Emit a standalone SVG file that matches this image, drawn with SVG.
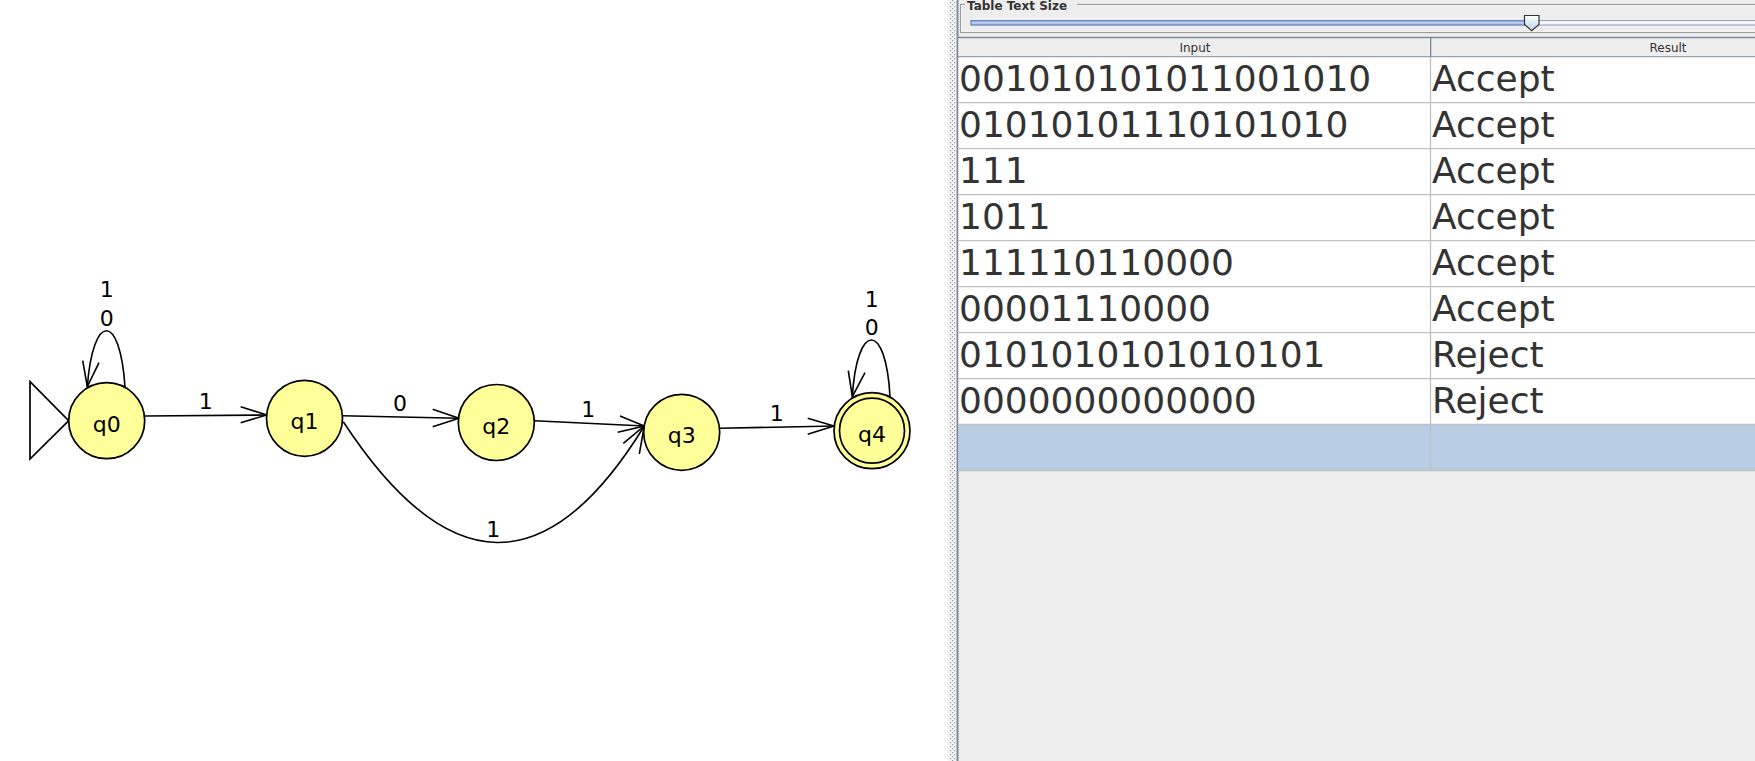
<svg xmlns="http://www.w3.org/2000/svg" width="1755" height="761" viewBox="0 0 1755 761">
<style>
.st{fill:#ffff99;stroke:#000;stroke-width:1.7}
.ln{fill:none;stroke:#000;stroke-width:1.6}
.lbl{font-family:"DejaVu Sans",Verdana,sans-serif;font-size:22px;fill:#000;text-anchor:middle}
.cell{font-family:"DejaVu Sans",Verdana,sans-serif;font-size:36px;fill:#333}
.hdr{font-family:"DejaVu Sans",Verdana,sans-serif;font-size:12px;fill:#333;text-anchor:middle}
.grid{stroke:#c0c0c0;stroke-width:1.3}
</style>
<defs>
<pattern id="dots" width="4" height="4" patternUnits="userSpaceOnUse">
<rect x="0" y="0" width="1.2" height="1.2" fill="#9a9a9a"/>
<rect x="2" y="2" width="1.2" height="1.2" fill="#9a9a9a"/>
</pattern>
<linearGradient id="trk" x1="0" y1="0" x2="0" y2="1">
<stop offset="0" stop-color="#6b8cc8"/>
<stop offset="0.5" stop-color="#c9d8ef"/>
<stop offset="1" stop-color="#8aa5d4"/>
</linearGradient>
<linearGradient id="thumb" x1="0" y1="0" x2="0" y2="1">
<stop offset="0" stop-color="#ffffff"/>
<stop offset="1" stop-color="#b9d2ec"/>
</linearGradient>
</defs>
<rect width="1755" height="761" fill="#fff"/>

<!-- Right panel -->
<g id="panel">
<rect x="948" y="0" width="9" height="761" fill="#f4f4f4"/>
<rect x="950" y="0" width="6" height="761" fill="url(#dots)"/>
<rect x="957" y="0" width="798" height="761" fill="#eeeeee"/>
<rect x="956.5" y="0" width="2" height="761" fill="#7b8a9b"/>
<rect x="960.5" y="4.5" width="800" height="28" fill="none" stroke="#9c9c9c" stroke-width="1.2"/>
<rect x="961.5" y="5.5" width="800" height="26" fill="none" stroke="#ffffff" stroke-width="0.8" opacity="0.7"/>
<rect x="965" y="0" width="112" height="11" fill="#eeeeee"/>
<text x="967" y="9.5" style="font-family:'DejaVu Sans',Verdana,sans-serif;font-size:12px;font-weight:bold;fill:#333">Table Text Size</text>
<rect x="971" y="20.5" width="800" height="4.5" fill="#f4f6fa" stroke="#8da0c0" stroke-width="1"/>
<rect x="971" y="20.5" width="557" height="4.5" fill="url(#trk)" stroke="#6a87bf" stroke-width="1"/>
<path d="M1524.5,15.5 H1539 V24.5 L1531.7,30.7 L1524.5,24.5 Z" fill="url(#thumb)" stroke="#333" stroke-width="1.2"/>
</g>

<g id="table">
<rect x="958.5" y="37.5" width="800" height="19" fill="#eeeeee"/>
<line x1="958" y1="37.5" x2="1755" y2="37.5" stroke="#7b8a9b" stroke-width="1.3"/>
<line x1="958" y1="56.8" x2="1755" y2="56.8" stroke="#7b8a9b" stroke-width="1.3"/>
<line x1="1430.7" y1="37.5" x2="1430.7" y2="56.8" stroke="#7b8a9b" stroke-width="1.3"/>
<text class="hdr" x="1195" y="52">Input</text>
<text class="hdr" x="1668" y="52">Result</text>
<rect x="958.5" y="57.4" width="800" height="367" fill="#ffffff"/>
<rect x="958.5" y="424.3" width="800" height="46" fill="#b8cee4"/>
<g class="grid">
<line x1="958.5" y1="102.7" x2="1755" y2="102.7"/>
<line x1="958.5" y1="148.7" x2="1755" y2="148.7"/>
<line x1="958.5" y1="194.7" x2="1755" y2="194.7"/>
<line x1="958.5" y1="240.7" x2="1755" y2="240.7"/>
<line x1="958.5" y1="286.7" x2="1755" y2="286.7"/>
<line x1="958.5" y1="332.7" x2="1755" y2="332.7"/>
<line x1="958.5" y1="378.7" x2="1755" y2="378.7"/>
<line x1="958.5" y1="424.5" x2="1755" y2="424.5"/>
<line x1="958.5" y1="470.5" x2="1755" y2="470.5"/>
<line x1="1430.5" y1="57" x2="1430.5" y2="470.5"/>
</g>
<text class="cell" x="959" y="90.7">001010101011001010</text>
<text class="cell" x="959" y="136.7">01010101110101010</text>
<text class="cell" x="959" y="182.7">111</text>
<text class="cell" x="959" y="228.7">1011</text>
<text class="cell" x="959" y="274.7">111110110000</text>
<text class="cell" x="959" y="320.7">00001110000</text>
<text class="cell" x="959" y="366.7">0101010101010101</text>
<text class="cell" x="959" y="412.7">0000000000000</text>
<text class="cell" x="1432" y="90.7">Accept</text>
<text class="cell" x="1432" y="136.7">Accept</text>
<text class="cell" x="1432" y="182.7">Accept</text>
<text class="cell" x="1432" y="228.7">Accept</text>
<text class="cell" x="1432" y="274.7">Accept</text>
<text class="cell" x="1432" y="320.7">Accept</text>
<text class="cell" x="1432" y="366.7">Reject</text>
<text class="cell" x="1432" y="412.7">Reject</text>
</g>

<!-- Connectors -->
<g id="connectors">
<polygon points="30,381.7 68.7,420.7 30,459" fill="#fff" stroke="#000" stroke-width="1.7"/>
<!-- q0 loop -->
<path class="ln" d="M125,386.7 C120,312 93,312 87.3,386.7"/>
<path class="ln" d="M82.7,360.7 L87.3,386.7 L99,362.7"/>
<text class="lbl" x="106.7" y="296.7">1</text>
<text class="lbl" x="106.7" y="326">0</text>
<!-- q0 -> q1 -->
<path class="ln" d="M144,416 L266.7,415"/>
<path class="ln" d="M240.7,406.7 L266.7,415 L240.7,422.7"/>
<text class="lbl" x="205.7" y="408.7">1</text>
<!-- q1 -> q2 -->
<path class="ln" d="M342.3,415.7 L459,418.3"/>
<path class="ln" d="M432.7,409.3 L459,418.3 L432.7,426.7"/>
<text class="lbl" x="400" y="411.3">0</text>
<!-- q2 -> q3 -->
<path class="ln" d="M534.3,420.7 L644.3,426"/>
<path class="ln" d="M620,416 L644.3,426 L617.7,432.3"/>
<text class="lbl" x="588.3" y="417.3">1</text>
<!-- q1 -> q3 curve -->
<path class="ln" d="M343.3,421.7 Q500,661 644.3,426"/>
<path class="ln" d="M623.3,443.3 L644.3,426 L639.3,454"/>
<text class="lbl" x="493.3" y="537.3">1</text>
<!-- q3 -> q4 -->
<path class="ln" d="M719.3,428.3 L834,426"/>
<path class="ln" d="M807.7,418.3 L834,426 L807.7,434.3"/>
<text class="lbl" x="776.7" y="420.7">1</text>
<!-- q4 loop -->
<path class="ln" d="M890,396.7 C886,321 857,321 852.3,396.7"/>
<path class="ln" d="M848.3,370.7 L852.3,396.7 L865,372.7"/>
<text class="lbl" x="871.7" y="307.3">1</text>
<text class="lbl" x="871.7" y="335">0</text>
</g>

<!-- Nodes -->
<g id="q0"><circle class="st" cx="106.7" cy="420.7" r="38"/><text class="lbl" x="106.7" y="431.7">q0</text></g>
<g id="q1"><circle class="st" cx="304.5" cy="418.3" r="38"/><text class="lbl" x="304.5" y="429.3">q1</text></g>
<g id="q2"><circle class="st" cx="496.3" cy="422.5" r="38"/><text class="lbl" x="496.3" y="433.5">q2</text></g>
<g id="q3"><circle class="st" cx="681.7" cy="432.3" r="38"/><text class="lbl" x="681.7" y="443.3">q3</text></g>
<g id="q4"><circle class="st" cx="872" cy="430.7" r="38"/><circle cx="872" cy="430.7" r="32.5" fill="none" stroke="#000" stroke-width="1.7"/><text class="lbl" x="872" y="441.7">q4</text></g>
</svg>
